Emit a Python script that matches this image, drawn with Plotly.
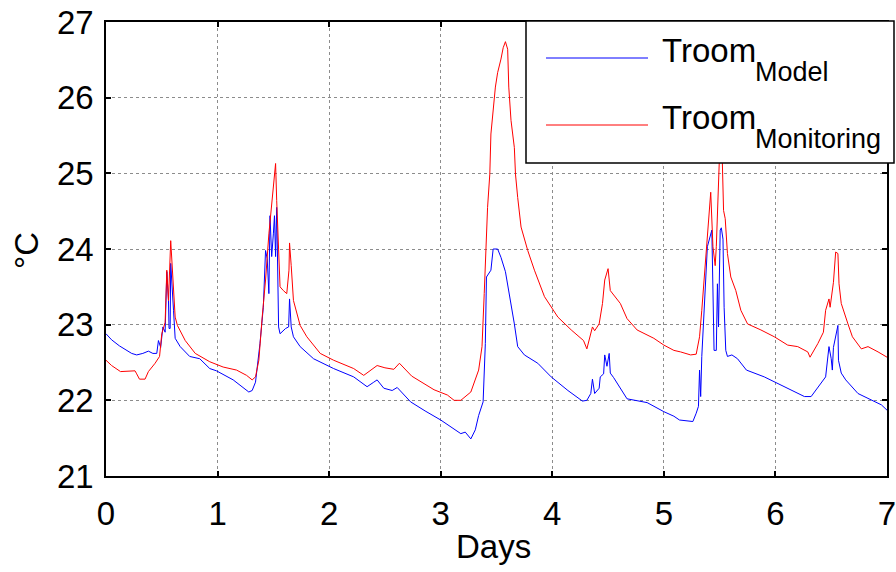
import plotly.graph_objects as go

# ---- data ----
days_model = [
    0, 0.05, 0.12, 0.2, 0.23, 0.275, 0.33, 0.38, 0.42, 0.455,
    0.47, 0.49, 0.51, 0.53, 0.545, 0.56, 0.565, 0.575, 0.58, 0.605,
    0.62, 0.665, 0.75, 0.84, 0.93, 0.99, 1.14, 1.28, 1.31, 1.34,
    1.38, 1.41, 1.43, 1.445, 1.46, 1.47, 1.485, 1.50, 1.51, 1.52,
    1.53, 1.547, 1.56, 1.61, 1.637, 1.645, 1.66, 1.68, 1.74, 1.86,
    2.04, 2.22, 2.34, 2.40, 2.43, 2.49, 2.565, 2.61, 2.73, 2.86,
    3.0, 3.18, 3.22, 3.27, 3.31, 3.34, 3.38, 3.40, 3.41, 3.45,
    3.47, 3.51, 3.54, 3.58, 3.61, 3.66, 3.69, 3.75, 3.87, 3.99,
    4.14, 4.27, 4.31, 4.345, 4.36, 4.38, 4.42, 4.43, 4.46, 4.47,
    4.49, 4.51, 4.52, 4.55, 4.67, 4.73, 4.85, 5.0, 5.09, 5.14,
    5.26, 5.29, 5.31, 5.32, 5.33, 5.34, 5.37, 5.39, 5.43, 5.45,
    5.47, 5.48, 5.49, 5.505, 5.515, 5.53, 5.54, 5.555, 5.57, 5.61,
    5.66, 5.74, 5.90, 6.02, 6.14, 6.26, 6.32, 6.41, 6.45, 6.48,
    6.50, 6.51, 6.52, 6.56, 6.565, 6.59, 6.63, 6.74, 6.86, 6.95,
    7.0,
]
troom_model = [
    22.88, 22.80, 22.72, 22.65, 22.62, 22.60, 22.62, 22.65, 22.62, 22.62,
    22.79, 22.70, 22.97, 22.90, 23.70, 23.32, 22.95, 22.95, 23.81, 23.19,
    22.82, 22.71, 22.58, 22.55, 22.42, 22.39, 22.27, 22.11, 22.13, 22.24,
    22.75, 23.23, 23.98, 23.87, 23.41, 24.44, 23.90, 24.20, 24.44, 23.90,
    24.55, 22.97, 22.88, 22.95, 22.97, 23.34, 22.97, 22.84, 22.71, 22.55,
    22.42, 22.31, 22.18, 22.24, 22.27, 22.16, 22.13, 22.17, 21.98, 21.86,
    21.74, 21.56, 21.58, 21.49, 21.61, 21.80, 21.98, 22.75, 23.63, 23.72,
    24.00, 24.00, 23.89, 23.70, 23.45, 23.01, 22.71, 22.60, 22.49, 22.31,
    22.13, 21.99, 22.00, 22.09, 22.28, 22.09, 22.16, 22.31, 22.35, 22.60,
    22.45, 22.62, 22.36, 22.30, 22.02, 22.00, 21.97, 21.85, 21.79, 21.74,
    21.72, 21.83, 21.92, 22.40, 22.05, 22.58, 23.54, 24.03, 24.25, 22.66,
    22.66, 23.54, 22.97, 24.25, 24.28, 24.13, 23.23, 22.66, 22.58, 22.60,
    22.55, 22.40, 22.31, 22.22, 22.13, 22.05, 22.05, 22.22, 22.31, 22.71,
    22.55, 22.40, 22.70, 22.99, 22.53, 22.36, 22.27, 22.09, 22.00, 21.94,
    21.87,
]

days_monitoring = [
    0, 0.05, 0.13, 0.26, 0.275, 0.30, 0.35, 0.38, 0.44, 0.48,
    0.50, 0.53, 0.545, 0.56, 0.58, 0.60, 0.62, 0.64, 0.71, 0.80,
    0.93, 1.05, 1.17, 1.26, 1.31, 1.34, 1.37, 1.40, 1.43, 1.46,
    1.48, 1.50, 1.52, 1.53, 1.56, 1.59, 1.62, 1.64, 1.645, 1.66,
    1.68, 1.74, 1.80, 1.92, 2.04, 2.22, 2.31, 2.43, 2.50, 2.58,
    2.63, 2.74, 2.94, 3.06, 3.12, 3.18, 3.27, 3.34, 3.37, 3.39,
    3.41, 3.42, 3.44, 3.45, 3.49, 3.51, 3.54, 3.56, 3.58, 3.60,
    3.61, 3.63, 3.66, 3.67, 3.69, 3.72, 3.78, 3.84, 3.93, 4.05,
    4.17, 4.28, 4.31, 4.34, 4.36, 4.38, 4.42, 4.45, 4.47, 4.50,
    4.52, 4.61, 4.67, 4.76, 4.91, 5.0, 5.09, 5.15, 5.24, 5.29,
    5.32, 5.34, 5.36, 5.38, 5.40, 5.42, 5.44, 5.46, 5.47, 5.49,
    5.505, 5.52, 5.535, 5.55, 5.57, 5.60, 5.645, 5.69, 5.75, 5.87,
    5.99, 6.11, 6.20, 6.29, 6.31, 6.38, 6.43, 6.45, 6.48, 6.49,
    6.52, 6.54, 6.56, 6.57, 6.59, 6.65, 6.69, 6.77, 6.83, 6.92,
    7.0,
]
troom_monitoring = [
    22.53, 22.46, 22.38, 22.39, 22.35, 22.28, 22.28, 22.38, 22.49, 22.58,
    22.88, 23.03, 23.72, 23.32, 24.11, 23.56, 23.10, 22.99, 22.79, 22.62,
    22.51, 22.44, 22.40, 22.33, 22.27, 22.31, 22.53, 23.10, 23.59, 24.20,
    24.55, 24.80, 25.13, 24.64, 23.50, 23.45, 23.41, 23.72, 24.08, 23.78,
    23.32, 22.99, 22.84, 22.62, 22.53, 22.42, 22.33, 22.46, 22.43, 22.41,
    22.49, 22.32, 22.14, 22.07, 22.00, 22.00, 22.11, 22.40, 22.71, 23.41,
    24.20, 24.55, 24.99, 25.52, 26.14, 26.33, 26.51, 26.66, 26.74, 26.64,
    26.14, 25.70, 25.34, 24.99, 24.68, 24.29, 23.98, 23.72, 23.37, 23.10,
    22.93, 22.79, 22.68, 22.84, 22.97, 22.92, 23.01, 23.28, 23.59, 23.74,
    23.45, 23.28, 23.08, 22.93, 22.82, 22.73, 22.66, 22.64, 22.60, 22.61,
    22.84, 23.19, 23.59, 24.00, 24.33, 24.75, 24.03, 23.78, 24.03, 24.86,
    25.50, 25.40, 24.51, 24.40, 23.94, 23.63, 23.45, 23.19, 23.01, 22.93,
    22.84, 22.73, 22.71, 22.64, 22.57, 22.75, 22.90, 23.19, 23.34, 23.23,
    23.56, 23.96, 23.94, 23.54, 23.28, 23.01, 22.84, 22.68, 22.71, 22.64,
    22.57,
]

x_ticks = [0, 1, 2, 3, 4, 5, 6, 7]
y_ticks = [21, 22, 23, 24, 25, 26, 27]
legend_names = [("Troom", "Model"), ("Troom", "Monitoring")]
series_colors = ["#0000ff", "#ff0000"]

FONT = "Liberation Sans, Arial, sans-serif"

fig = go.Figure()
fig.add_trace(go.Scatter(x=days_model, y=troom_model, mode="lines",
                         line=dict(color=series_colors[0], width=1),
                         showlegend=False))
fig.add_trace(go.Scatter(x=days_monitoring, y=troom_monitoring, mode="lines",
                         line=dict(color=series_colors[1], width=1),
                         showlegend=False))

W, H = 896, 572
L, R, T, B = 106, 9, 22, 96
pw, ph = W - L - R, H - T - B


def px(xp):
    return (xp - L) / pw


def py(yp):
    return (H - B - yp) / ph


axis_common = dict(
    showline=True, linecolor="black", linewidth=1.5, mirror="ticks",
    ticks="inside", ticklen=5, tickcolor="black", tickwidth=1.5,
    showgrid=True, gridcolor="#8c8c8c", gridwidth=1, griddash="dot",
    zeroline=False, automargin=False, ticklabeloverflow="allow",
    tickfont=dict(family=FONT, size=33, color="black"),
)

fig.update_xaxes(range=[0, 7], tickvals=x_ticks, ticktext=[str(v) for v in x_ticks],
                 ticklabelstandoff=8, **axis_common)
fig.update_yaxes(range=[21, 27], tickvals=y_ticks, ticktext=[str(v) for v in y_ticks],
                 ticklabelstandoff=4, **axis_common)

shapes = [
    dict(type="rect", xref="paper", yref="paper",
         x0=px(526), x1=px(894), y0=py(163), y1=py(21),
         line=dict(color="black", width=1.5), fillcolor="white", layer="above"),
]
annotations = []
line_y = [58, 125]
main_y = [50.8, 117.9]
sub_y = [72, 139.2]
for i, (main, sub) in enumerate(legend_names):
    shapes.append(dict(type="line", xref="paper", yref="paper",
                       x0=px(546), x1=px(648), y0=py(line_y[i]), y1=py(line_y[i]),
                       line=dict(color=series_colors[i], width=1), layer="above"))
    annotations.append(dict(xref="paper", yref="paper", x=px(660), y=py(main_y[i]),
                            text=main, showarrow=False, xanchor="left", yanchor="middle",
                            font=dict(family=FONT, size=33, color="black")))
    annotations.append(dict(xref="paper", yref="paper", x=px(753), y=py(sub_y[i]),
                            text=sub, showarrow=False, xanchor="left", yanchor="middle",
                            font=dict(family=FONT, size=27, color="black")))

annotations.append(dict(xref="paper", yref="paper", x=px(493), y=py(546.5),
                        text="Days", showarrow=False, xanchor="center", yanchor="middle",
                        font=dict(family=FONT, size=33, color="black")))
annotations.append(dict(xref="paper", yref="paper", x=px(26), y=py(251),
                        text="°C", showarrow=False, xanchor="center", yanchor="middle",
                        textangle=-90,
                        font=dict(family=FONT, size=33, color="black")))

fig.update_layout(
    width=W, height=H,
    margin=dict(l=L, r=R, t=T, b=B, pad=0, autoexpand=False),
    paper_bgcolor="white", plot_bgcolor="white",
    showlegend=False,
    shapes=shapes, annotations=annotations,
    font=dict(family=FONT, color="black"),
)

fig.write_html("out.html",
               config={"displayModeBar": False},
               post_script="document.body.style.margin='0px';document.body.style.overflow='hidden';")
